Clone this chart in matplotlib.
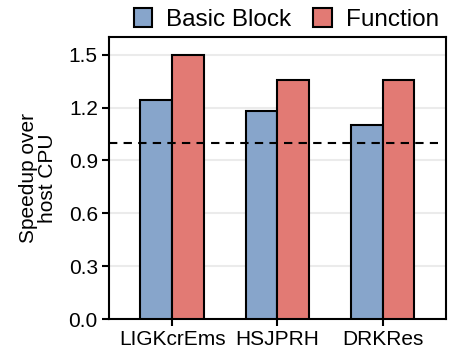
import matplotlib
matplotlib.use("Agg")
import matplotlib.pyplot as plt
import numpy as np

plt.rcParams['font.family'] = ['Liberation Sans', 'DejaVu Sans']

categories = ["LIGKcrEms", "HSJPRH", "DRKRes"]
series_names = ["Basic Block", "Function"]
basic_block = [1.24, 1.18, 1.10]
function = [1.50, 1.355, 1.355]
baseline = 1.0
yticks = [0.0, 0.3, 0.6, 0.9, 1.2, 1.5]

colors = ["#87a5cb", "#e27a74"]

fig = plt.figure(figsize=(4.5, 3.59), dpi=100)
ax = fig.add_axes([0.242, 0.111, 0.749, 0.786])

width = 0.3
inds = np.arange(len(categories))
for i, (vals, color, name) in enumerate(zip([basic_block, function], colors, series_names)):
    ax.bar(inds + (i - 0.5) * width, vals, width, color=color, edgecolor="black",
           linewidth=1.5, label=name, zorder=3)

ax.plot([-0.6, 2.52], [baseline, baseline], color="black", linestyle=(0, (4, 3)),
        linewidth=1.5, zorder=4)

ax.set_xlim(-0.6, 2.6)
ax.set_ylim(0, 1.6)
ax.set_yticks(yticks)
ax.set_yticklabels(["%.1f" % t for t in yticks])
ax.set_xticks(inds)
ax.set_xticklabels(categories)
ax.tick_params(labelsize=15, width=1.5, length=5, direction="out", pad=3)
ax.yaxis.grid(True, color="#ebebeb", linewidth=1.5, zorder=0)
ax.set_axisbelow(True)
for s in ax.spines.values():
    s.set_linewidth(1.5)
ax.set_ylabel("Speedup over\nhost CPU", fontsize=15, linespacing=1.0, labelpad=8)

fig.legend(loc="upper right", bbox_to_anchor=(1.025, 1.04), ncol=2, frameon=False,
           fontsize=17.5, handlelength=0.75, handleheight=0.85, handletextpad=0.6,
           columnspacing=0.9)

fig.savefig("out.png", dpi=100)
